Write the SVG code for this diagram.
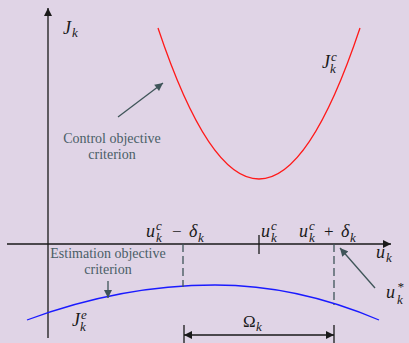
<svg xmlns="http://www.w3.org/2000/svg" width="409" height="343" viewBox="0 0 409 343">
<style>
text{font-family:'Liberation Serif','DejaVu Serif','Times New Roman',serif}
.m{font-style:italic;fill:#1a1a1a}
.big{font-size:18px}
.sub{font-size:13px}
.op{font-style:normal;font-size:17px;fill:#1a1a1a}
.lbl{font-size:14px;fill:#4a5e66;text-anchor:middle}
.axis{stroke:#1a1a1a;stroke-width:1.3;fill:none}
.dash{stroke:#3f5559;stroke-width:1.3;stroke-dasharray:8,4;fill:none}
.ptr{stroke:#3f5559;stroke-width:1.3;fill:none}
</style>
<defs>
<marker id="ah" viewBox="0 0 10 10" refX="10" refY="5" markerWidth="10" markerHeight="8" markerUnits="userSpaceOnUse" orient="auto">
<path d="M0,0 L10,5 L0,10 Z" fill="#1a1a1a"/>
</marker>
<marker id="ahs" viewBox="0 0 10 10" refX="10" refY="5" markerWidth="10" markerHeight="8" markerUnits="userSpaceOnUse" orient="auto-start-reverse">
<path d="M0,0 L10,5 L0,10 Z" fill="#1a1a1a"/>
</marker>
<marker id="ap" viewBox="0 0 10 10" refX="10" refY="5" markerWidth="10" markerHeight="8" markerUnits="userSpaceOnUse" orient="auto">
<path d="M0,0 L10,5 L0,10 Z" fill="#3f5559"/>
</marker>
</defs>
<rect x="0" y="0" width="409" height="343" fill="#e0d4e6"/>

<g id="axes">
<line class="axis" x1="48" y1="338" x2="48" y2="8" marker-end="url(#ah)"/>
<line class="axis" x1="7" y1="244" x2="391" y2="244" marker-end="url(#ah)"/>
<line class="axis" x1="259" y1="235" x2="259" y2="254"/>
<text class="m big" font-family="Liberation Serif, DejaVu Serif, serif" x="63" y="34">J</text><text class="m sub" x="72" y="37">k</text>
<text class="m big" x="376" y="258">u</text><text class="m sub" x="386" y="262">k</text>
</g>

<g id="control-curve">
<path d="M158,28 Q259,330 360,28" fill="none" stroke="#ff1a1a" stroke-width="1.3"/>
<text class="m big" x="322" y="68">J</text><text class="m sub" x="331" y="61">c</text><text class="m sub" x="330" y="73">k</text>
</g>

<g id="estimation-curve">
<path d="M27,320 Q121,285 215,285 Q297,285 379,320" fill="none" stroke="#1a1aff" stroke-width="1.3"/>
<text class="m big" x="72" y="326">J</text><text class="m sub" x="81" y="319">e</text><text class="m sub" x="80" y="331">k</text>
</g>

<g id="control-label">
<text class="lbl" x="112" y="143">Control objective</text>
<text class="lbl" x="112" y="159">criterion</text>
</g>

<g id="estimation-label">
<text class="lbl" x="108" y="258">Estimation objective</text>
<text class="lbl" x="108" y="274">criterion</text>
</g>

<g id="lower-bound">
<line class="dash" x1="183" y1="244" x2="183" y2="287"/>
<text class="m big" x="146" y="237">u</text><text class="m sub" x="156" y="230">c</text><text class="m sub" x="156" y="242">k</text>
<text class="op" x="172" y="237">−</text>
<text class="m big" x="189" y="237">δ</text><text class="m sub" x="198" y="242">k</text>
</g>

<g id="center">
<text class="m big" x="261" y="237">u</text><text class="m sub" x="271" y="230">c</text><text class="m sub" x="271" y="242">k</text>
</g>

<g id="upper-bound">
<line class="dash" x1="334" y1="244" x2="334" y2="305"/>
<text class="m big" x="299" y="237">u</text><text class="m sub" x="309" y="230">c</text><text class="m sub" x="309" y="242">k</text>
<text class="op" x="324" y="237">+</text>
<text class="m big" x="341" y="237">δ</text><text class="m sub" x="350" y="242">k</text>
</g>

<g id="optimum">
<text class="m big" x="386" y="298">u</text><text class="m sub" x="397" y="291">*</text><text class="m sub" x="397" y="304">k</text>
</g>

<g id="omega">
<line class="axis" x1="184" y1="325" x2="184" y2="343"/>
<line class="axis" x1="334" y1="325" x2="334" y2="343"/>
<line class="axis" x1="184" y1="335" x2="334" y2="335" marker-start="url(#ahs)" marker-end="url(#ah)"/>
<text class="op" x="243" y="327">Ω</text><text class="m sub" x="256" y="331">k</text>
</g>

<g id="connectors">
<line class="ptr" x1="118" y1="117" x2="163" y2="83" marker-end="url(#ap)"/>
<line class="ptr" x1="108" y1="281" x2="108" y2="298" marker-end="url(#ap)"/>
<line class="ptr" x1="375" y1="288" x2="340" y2="248" marker-end="url(#ap)"/>
</g>
</svg>
